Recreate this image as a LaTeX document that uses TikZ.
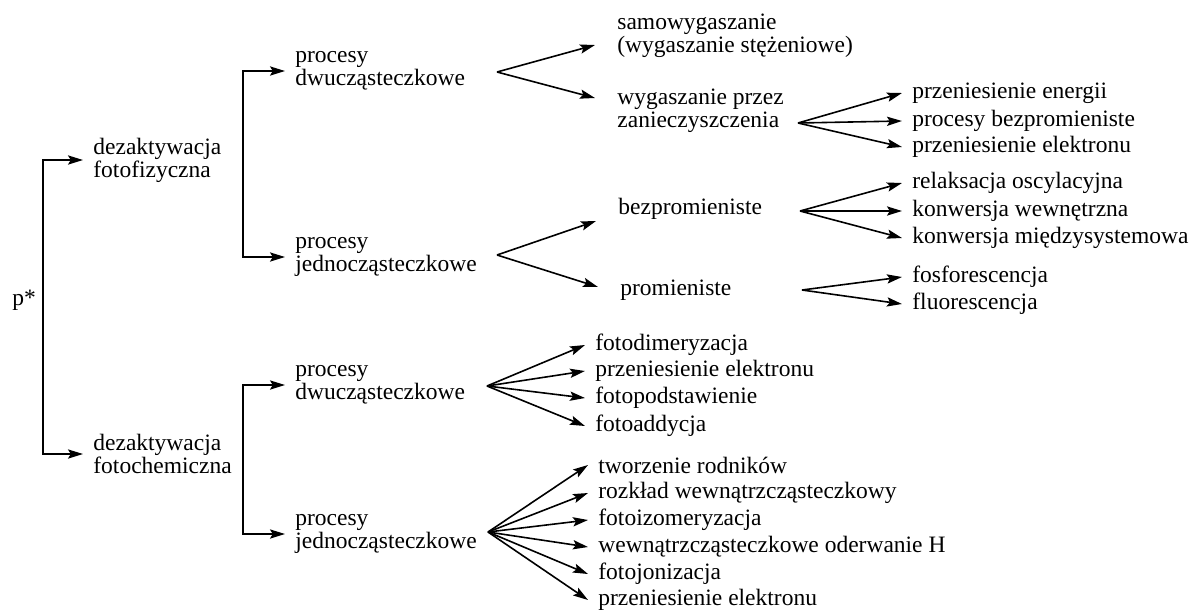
\documentclass[tikz,border=0pt]{standalone}
\usepackage{fontspec}
\setmainfont{Liberation Serif}
\usetikzlibrary{arrows.meta}

\begin{document}
\begin{tikzpicture}[x=0.5pt, y=-0.5pt,
    every node/.style={anchor=west, inner xsep=5pt, inner ysep=1pt, align=left,
        font=\fontsize{11.75pt}{11.5pt}\selectfont},
    mid/.style={inner xsep=11pt},
    arr/.style={-{Stealth[length=7.5pt, width=4.6pt, inset=1.4pt]}, line width=0.8pt}]
    \useasboundingbox (0,0) rectangle (1194,612);

    % p* and the two kinds of deactivation
    \node (p) at (2,300) {p*};
    \node (dezf) at (83,160) {dezaktywacja\\fotofizyczna};
    \node (dezc) at (83,454) {dezaktywacja\\fotochemiczna};
    \coordinate (j0) at (43,300);
    \draw[arr] (j0) |- (dezf.west);
    \draw[arr] (j0) |- (dezc.west);

    % bi- and unimolecular processes
    \node (pdu) at (285,71) {procesy\\dwucząsteczkowe};
    \node (pju) at (285,257) {procesy\\jednocząsteczkowe};
    \node (pdc) at (285,385) {procesy\\dwucząsteczkowe};
    \node (pjc) at (285,534) {procesy\\jednocząsteczkowe};
    \coordinate (j1) at (243,160);
    \coordinate (j2) at (243,460);
    \draw[arr] (j1) |- (pdu.west);
    \draw[arr] (j1) |- (pju.west);
    \draw[arr] (j2) |- (pdc.west);
    \draw[arr] (j2) |- (pjc.west);

    % photophysical branch
    \node[mid] (sam) at (595,36) {samowygaszanie\\(wygaszanie stężeniowe)};
    \node[mid] (wyg) at (595,111) {wygaszanie przez\\zanieczyszczenia};
    \node[mid] (bez) at (596,209) {bezpromieniste};
    \node[mid] (pro) at (598,290) {promieniste};
    \coordinate (fa) at (497,72);
    \coordinate (fb) at (497,255);
    \draw[arr] (fa) -- ([yshift=-4.5pt]sam.west);
    \draw[arr] (fa) -- ([yshift=6.5pt]wyg.west);
    \draw[arr] (fb) -- ([yshift=-6pt]bez.west);
    \draw[arr] (fb) -- ([yshift=1.5pt]pro.west);

    \node (wa) at (902,93) {przeniesienie energii};
    \node (wb) at (902,121) {procesy bezpromieniste};
    \node (wc) at (902,147) {przeniesienie elektronu};
    \coordinate (fc) at (798,123);
    \draw[arr] (fc) -- (wa.west);
    \draw[arr] (fc) -- (wb.west);
    \draw[arr] (fc) -- (wc.west);

    \node (ba) at (902,183) {relaksacja oscylacyjna};
    \node (bb) at (902,211) {konwersja wewnętrzna};
    \node (bc) at (902,238) {konwersja międzysystemowa};
    \coordinate (fd) at (800,211);
    \draw[arr] (fd) -- (ba.west);
    \draw[arr] (fd) -- (bb.west);
    \draw[arr] (fd) -- (bc.west);

    \node (ra) at (902,277) {fosforescencja};
    \node (rb) at (902,304) {fluorescencja};
    \coordinate (fe) at (802,290);
    \draw[arr] (fe) -- (ra.west);
    \draw[arr] (fe) -- (rb.west);

    % photochemical branch
    \node (da) at (585,345) {fotodimeryzacja};
    \node (db) at (585,371) {przeniesienie elektronu};
    \node (dc) at (585,398) {fotopodstawienie};
    \node (dd) at (585,426) {fotoaddycja};
    \coordinate (ff) at (487,386);
    \draw[arr] (ff) -- (da.west);
    \draw[arr] (ff) -- (db.west);
    \draw[arr] (ff) -- (dc.west);
    \draw[arr] (ff) -- (dd.west);

    \node (ja) at (588,465) {tworzenie rodników};
    \node (jb) at (588,493) {rozkład wewnątrzcząsteczkowy};
    \node (jc) at (588,520) {fotoizomeryzacja};
    \node (jd) at (588,547) {wewnątrzcząsteczkowe oderwanie H};
    \node (je) at (588,574) {fotojonizacja};
    \node (jf) at (588,600) {przeniesienie elektronu};
    \coordinate (fg) at (488,532);
    \draw[arr] (fg) -- (ja.west);
    \draw[arr] (fg) -- (jb.west);
    \draw[arr] (fg) -- (jc.west);
    \draw[arr] (fg) -- (jd.west);
    \draw[arr] (fg) -- (je.west);
    \draw[arr] (fg) -- (jf.west);
\end{tikzpicture}
\end{document}
